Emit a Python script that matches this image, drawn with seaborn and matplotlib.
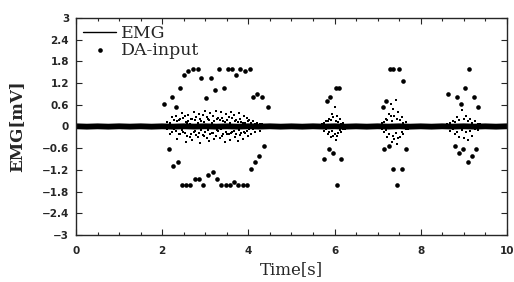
import numpy as np
import pandas as pd
import matplotlib
matplotlib.use("Agg")
import matplotlib.pyplot as plt
from matplotlib.ticker import MultipleLocator
import seaborn as sns

# EMG baseline (thick band around 0)
emg_v = [0.005, -0.005, 0.004, -0.005, 0.005, -0.004, 0.005, -0.005, 0.004, -0.005,
         0.005, -0.004, 0.005, -0.005, 0.004, -0.005, 0.005, -0.004, 0.005, -0.005,
         0.004, -0.005, 0.005, -0.004, 0.005, -0.005, 0.004, -0.005, 0.005, -0.004,
         0.005, -0.005, 0.004, -0.005, 0.005, -0.004, 0.005, -0.005, 0.004, -0.005,
         0.005]
emg_t = np.linspace(0, 10, len(emg_v))

# EMG burst samples (printed as specks)
b1_t = [2.12, 2.18, 2.22, 2.27, 2.31, 2.35, 2.38, 2.42, 2.45, 2.49,
        2.52, 2.55, 2.58, 2.61, 2.64, 2.67, 2.70, 2.73, 2.76, 2.79,
        2.82, 2.85, 2.88, 2.91, 2.94, 2.97, 3.00, 3.03, 3.06, 3.09,
        3.12, 3.15, 3.18, 3.21, 3.24, 3.27, 3.30, 3.33, 3.36, 3.39,
        3.42, 3.45, 3.48, 3.51, 3.54, 3.57, 3.60, 3.63, 3.66, 3.69,
        3.72, 3.75, 3.78, 3.81, 3.84, 3.87, 3.90, 3.93, 3.96, 3.99,
        4.02, 4.06, 4.10, 4.15, 4.20, 4.26, 4.32]
b1_v = [0.12, -0.20, 0.25, -0.08, 0.30, -0.35, 0.18, -0.22, 0.38, -0.15,
        0.28, -0.42, 0.10, 0.33, -0.30, 0.22, -0.38, 0.40, -0.12, 0.26,
        -0.28, 0.35, -0.45, 0.15, 0.31, -0.25, 0.44, -0.33, 0.20, -0.40,
        0.37, -0.18, 0.29, -0.36, 0.42, -0.10, 0.24, -0.31, 0.39, -0.27,
        0.16, -0.43, 0.34, -0.21, 0.27, -0.37, 0.41, -0.14, 0.32, -0.29,
        0.19, -0.39, 0.36, -0.24, 0.13, -0.34, 0.30, -0.19, 0.23, -0.26,
        0.17, -0.21, 0.14, -0.16, 0.10, -0.12, 0.06]
b1_v2 = [-0.06, 0.10, -0.14, 0.18, -0.12, 0.15, -0.22, 0.20, -0.10, 0.24,
         -0.18, 0.12, -0.26, 0.16, 0.08, -0.20, 0.22, -0.14, 0.19, -0.24,
         0.11, -0.17, 0.21, -0.09, -0.23, 0.13, -0.16, 0.25, -0.11, 0.18,
         -0.21, 0.09, -0.19, 0.14, -0.25, 0.20, -0.13, 0.17, -0.08, 0.23,
         -0.20, 0.12, -0.15, 0.19, -0.22, 0.10, -0.18, 0.24, -0.12, 0.16,
         -0.21, 0.13, -0.10, 0.20, -0.17, 0.11, -0.14, 0.09, -0.12, 0.15,
         -0.08, 0.10, -0.07, 0.08, -0.05, 0.06, -0.04]

b2_t = [5.72, 5.76, 5.80, 5.84, 5.88, 5.91, 5.94, 5.97, 6.00, 6.03, 6.06, 6.09, 6.12, 6.16, 6.20, 6.25]
b2_v = [0.08, -0.12, 0.15, -0.20, 0.22, -0.30, 0.35, -0.25, 0.55, -0.38, 0.28, -0.18, 0.20, -0.14, 0.10, -0.06]
b2_v2 = [-0.05, 0.10, -0.08, 0.14, -0.15, 0.18, -0.12, 0.25, -0.20, 0.16, -0.26, 0.12, -0.10, 0.08, -0.06, 0.05]

b3_t = [7.10, 7.15, 7.19, 7.23, 7.27, 7.30, 7.33, 7.36, 7.39, 7.42, 7.45, 7.48, 7.52, 7.56, 7.60, 7.65, 7.70]
b3_v = [0.10, -0.15, 0.22, -0.28, 0.35, 0.62, -0.42, 0.48, -0.35, 0.72, -0.48, 0.40, -0.30, 0.25, -0.20, 0.12, -0.08]
b3_v2 = [-0.06, 0.12, -0.10, 0.18, -0.20, 0.28, 0.15, -0.25, 0.30, -0.18, 0.22, -0.32, 0.18, -0.15, 0.10, -0.08, 0.05]

b4_t = [8.62, 8.68, 8.74, 8.80, 8.85, 8.90, 8.95, 9.00, 9.05, 9.10, 9.15, 9.20, 9.26, 9.32, 9.38]
b4_v = [0.08, -0.12, 0.15, -0.20, 0.25, -0.28, 0.45, -0.32, 0.30, -0.38, 0.22, -0.25, 0.15, -0.10, 0.06]
b4_v2 = [-0.05, 0.10, -0.08, 0.12, -0.15, 0.18, -0.10, 0.20, -0.16, 0.14, -0.12, 0.10, -0.08, 0.06, -0.04]

# DA-input points
da_t = [2.04, 2.23, 2.32, 2.41, 2.51, 2.60, 2.72, 2.83, 2.90, 3.01, 3.13, 3.22,
        3.32, 3.43, 3.53, 3.62, 3.71, 3.80, 3.92, 4.04, 4.11, 4.20, 4.32, 4.46,
        2.16, 2.25, 2.36, 2.46, 2.55, 2.65, 2.76, 2.85, 2.95, 3.06, 3.17, 3.27,
        3.36, 3.48, 3.57, 3.67, 3.76, 3.87, 3.97, 4.06, 4.15, 4.25, 4.37,
        5.82, 5.90, 6.03, 6.10, 5.75, 5.87, 5.96, 6.06, 6.15,
        7.12, 7.20, 7.29, 7.36, 7.50, 7.59, 7.15, 7.26, 7.36, 7.45, 7.56, 7.66,
        8.63, 8.84, 8.94, 9.03, 9.12, 9.23, 9.33, 8.79, 8.88, 8.98, 9.09, 9.19, 9.28]
da_v = [0.62, 0.81, 0.54, 1.06, 1.42, 1.53, 1.60, 1.60, 1.34, 0.79, 1.34, 1.00,
        1.60, 1.06, 1.60, 1.60, 1.42, 1.60, 1.53, 1.60, 0.81, 0.89, 0.81, 0.54,
        -0.63, -1.09, -0.99, -1.62, -1.62, -1.62, -1.45, -1.45, -1.62, -1.35, -1.26, -1.45,
        -1.62, -1.62, -1.62, -1.53, -1.62, -1.62, -1.62, -1.17, -0.99, -0.81, -0.53,
        0.71, 0.81, 1.06, 1.06, -0.90, -0.62, -0.73, -1.62, -0.90,
        0.54, 0.71, 1.60, 1.60, 1.60, 1.26, -0.62, -0.53, -1.17, -1.62, -1.17, -0.62,
        0.89, 0.81, 0.62, 1.06, 1.60, 0.81, 0.54, -0.53, -0.73, -0.62, -0.98, -0.81, -0.62]

xticks = [0, 2, 4, 6, 8, 10]
yticks = [3, 2.4, 1.8, 1.2, 0.6, 0, -0.6, -1.2, -1.8, -2.4, -3]
ytick_labels = ["3", "2.4", "1.8", "1.2", "0.6", "0", "\u22120.6", "\u22121.2",
                "\u22121.8", "\u22122.4", "\u22123"]

base = pd.DataFrame({"t": emg_t, "v": emg_v})
specks = pd.DataFrame({
    "t": b1_t + b1_t + b2_t + b2_t + b3_t + b3_t + b4_t + b4_t,
    "v": b1_v + b1_v2 + b2_v + b2_v2 + b3_v + b3_v2 + b4_v + b4_v2,
})
da = pd.DataFrame({"t": da_t, "v": da_v})

sns.set_style("ticks")
fig = plt.figure(figsize=(5.14, 2.82), dpi=100)
ax = fig.add_axes([0.148, 0.167, 0.838, 0.769])

sns.lineplot(data=base, x="t", y="v", ax=ax, color="black", lw=4.2,
             label="EMG", estimator=None, sort=False)
sns.scatterplot(data=specks, x="t", y="v", ax=ax, color="black", s=2.5,
                marker="s", linewidth=0, legend=False)
sns.scatterplot(data=da, x="t", y="v", ax=ax, color="black", s=11,
                linewidth=0, label="DA-input")

ax.set_xlim(0, 10)
ax.set_ylim(-3, 3)
ax.set_xticks(xticks)
ax.set_xticklabels([str(x) for x in xticks])
ax.xaxis.set_minor_locator(MultipleLocator(0.5))
ax.set_yticks(yticks)
ax.set_yticklabels(ytick_labels)
ax.tick_params(which="both", direction="in", top=True, right=True,
               labelsize=7.5, width=0.8)
ax.tick_params(axis="x", pad=8)
ax.tick_params(axis="y", pad=5)
ax.tick_params(which="major", length=4)
ax.tick_params(which="minor", length=2)
for lab in ax.get_xticklabels() + ax.get_yticklabels():
    lab.set_fontweight("bold")
for sp in ax.spines.values():
    sp.set_linewidth(1.0)

ax.set_xlabel("Time[s]", family="DejaVu Serif", fontsize=12, labelpad=4)
ax.set_ylabel("EMG[mV]", family="DejaVu Serif", fontsize=12,
              fontweight="bold", labelpad=12)

leg = ax.legend(loc="upper left", frameon=False, prop={"family": "DejaVu Serif", "size": 12.5},
                handlelength=1.9, handletextpad=0.3, borderaxespad=0.1,
                borderpad=0.3, labelspacing=0.0, markerscale=1.0)
leg.get_lines()[0].set_linewidth(1.0)

fig.savefig("out.png", dpi=100)
